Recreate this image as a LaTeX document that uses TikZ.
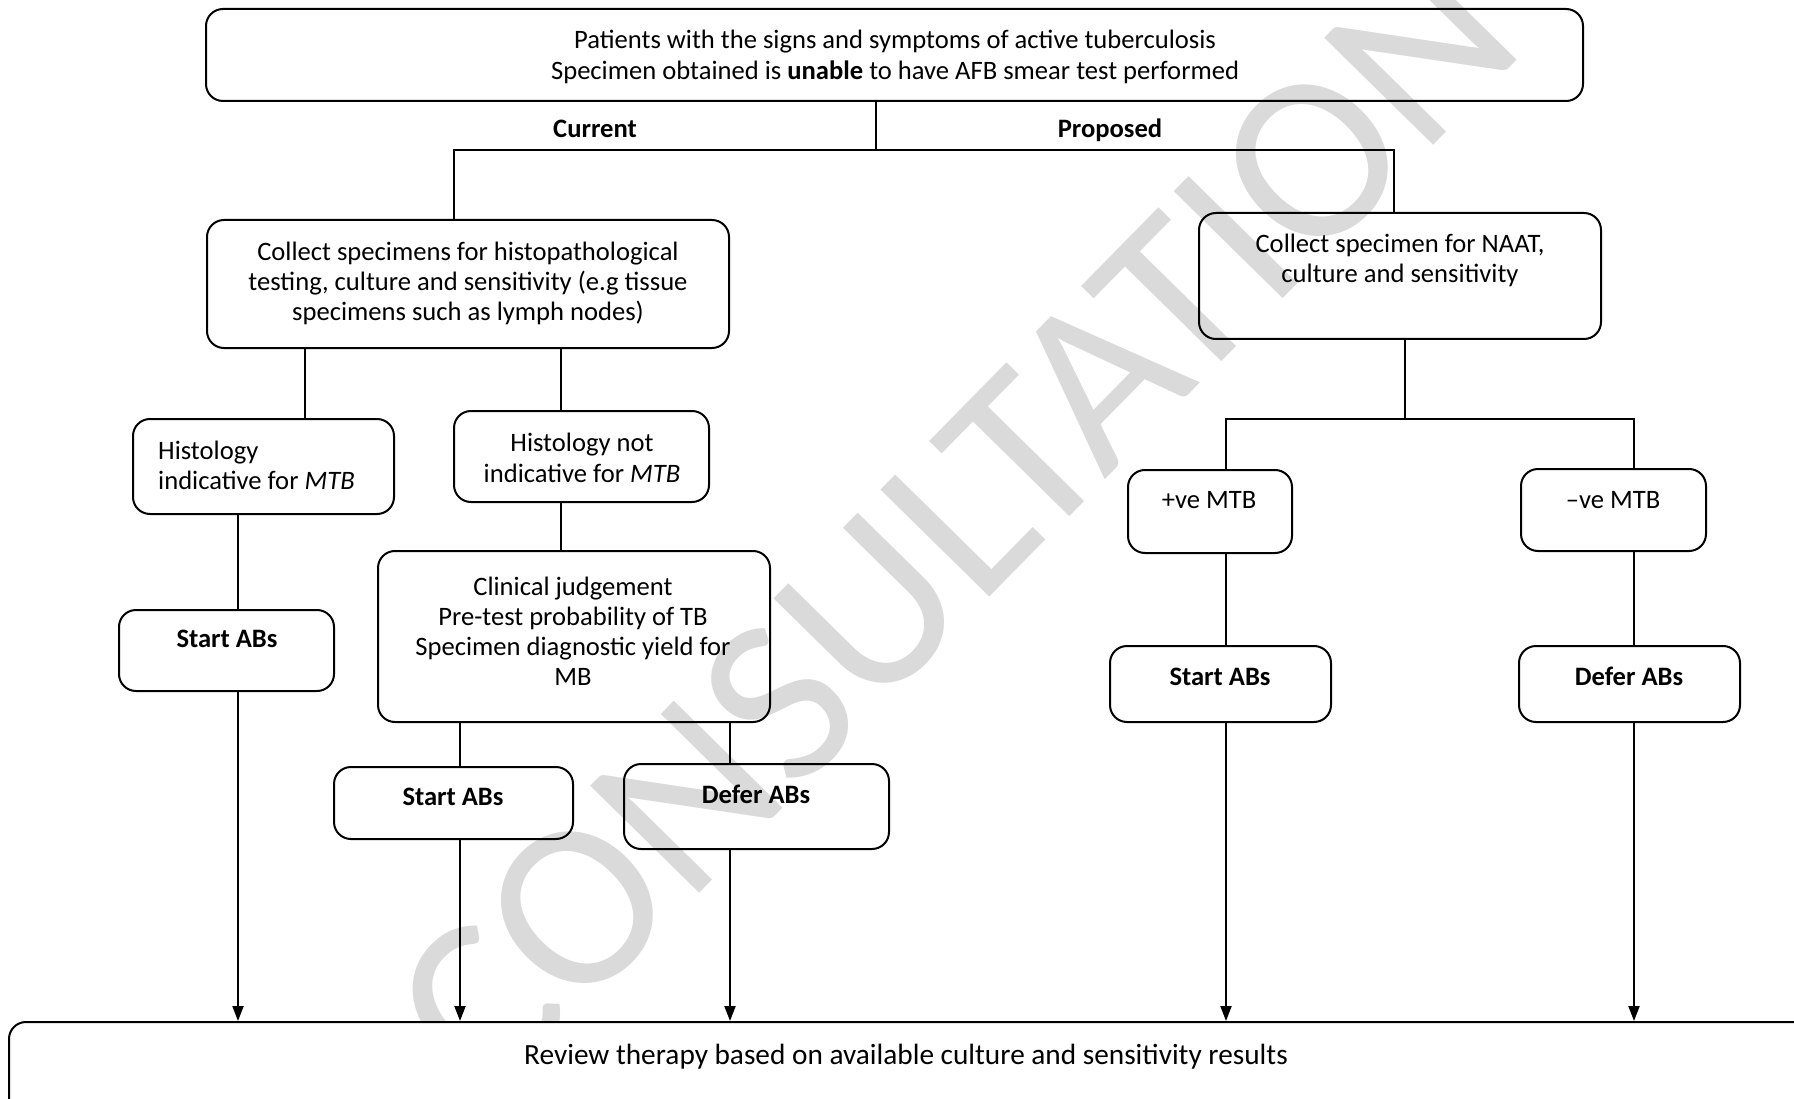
\documentclass[tikz,border=0pt]{standalone}
\usepackage{fontspec}
\setmainfont{Carlito}
\usetikzlibrary{arrows.meta,fit}
\definecolor{wmgray}{RGB}{218,218,218}
\begin{document}
\begin{tikzpicture}[x=1pt,y=-1pt,
  box/.style={draw, line width=2pt, rounded corners=17pt, inner sep=0pt},
  txt/.style={font=\fontsize{26.6}{31}\selectfont, inner sep=0pt, anchor=base},
  btxt/.style={txt, font=\fontsize{26.6}{31}\selectfont\bfseries},
  ln/.style={line width=2pt},
  arr/.style={line width=2pt, -{Triangle[length=15pt,width=11pt]}}]
\useasboundingbox (0,0) rectangle (1794,1099);
\clip (0,0) rectangle (1794,1099);
\fill[white] (0,0) rectangle (1794,1099);

% watermark
\node[text=wmgray, font=\fontsize{238}{238}\selectfont, rotate=45.5, inner sep=0pt] (wmk) at (955,524) {CONSULTATION};

% boxes
\node[box, fit={(206,9) (1583,101)}] (top) {};
\node[box, fit={(207,220) (729,348)}] (coll) {};
\node[box, fit={(1199,213) (1601,339)}] (naat) {};
\node[box, fit={(133,419) (394,514)}] (hist) {};
\node[box, fit={(454,411) (709,502)}] (hnot) {};
\node[box, fit={(378,551) (770,722)}] (clin) {};
\node[box, fit={(119,610) (334,691)}] (sa1) {};
\node[box, fit={(334,767) (573,839)}] (sa2) {};
\node[box, fit={(624,764) (889,849)}] (da1) {};
\node[box, fit={(1128,470) (1292,553)}] (pos) {};
\node[box, fit={(1521,469) (1706,551)}] (neg) {};
\node[box, fit={(1110,646) (1331,722)}] (sa3) {};
\node[box, fit={(1519,646) (1740,722)}] (da2) {};
\node[box, fill=white, fit={(9,1022) (1840,1140)}] (rev) {};

% texts
\node[txt] (t1a) at (895,49) {Patients with the signs and symptoms of active tuberculosis};
\node[txt] (t1b) at (895,80) {Specimen obtained is \textbf{unable} to have AFB smear test performed};
\node[btxt] (cur) at (595,138) {Current};
\node[btxt] (prop) at (1110,138) {Proposed};
\node[txt] (c1) at (468,261) {Collect specimens for histopathological};
\node[txt] (c2) at (468,291) {testing, culture and sensitivity (e.g tissue};
\node[txt] (c3) at (468,321) {specimens such as lymph nodes)};
\node[txt] (n1) at (1400,253) {Collect specimen for NAAT,};
\node[txt] (n2) at (1400,283) {culture and sensitivity};
\node[txt, anchor=base west] (h1) at (158,459) {Histology};
\node[txt, anchor=base west] (h2) at (158,489) {indicative for \textit{MTB}};
\node[txt] (hn1) at (582,451) {Histology not};
\node[txt] (hn2) at (582,482) {indicative for \textit{MTB}};
\node[txt] (cl1) at (573,595) {Clinical judgement};
\node[txt] (cl2) at (573,625) {Pre-test probability of TB};
\node[txt] (cl3) at (573,655) {Specimen diagnostic yield for};
\node[txt] (cl4) at (573,685) {MB};
\node[btxt] (s1) at (227,647) {Start ABs};
\node[btxt] (s2) at (453,805) {Start ABs};
\node[btxt] (d1) at (756,803) {Defer ABs};
\node[txt] (p1) at (1209,508) {+ve MTB};
\node[txt] (m1) at (1613,508) {–ve MTB};
\node[btxt] (s3) at (1220,685) {Start ABs};
\node[btxt] (d2) at (1629,685) {Defer ABs};
\node[txt, font=\fontsize{29.3}{34}\selectfont] (rv) at (906,1064) {Review therapy based on available culture and sensitivity results};

% junction coordinates
\coordinate (j0) at (876,150);
\coordinate (jL) at (454,150);
\coordinate (jR) at (1394,150);
\coordinate (xa) at (305,0);
\coordinate (xb) at (561,0);
\coordinate (xc) at (238,0);
\coordinate (xd) at (460,0);
\coordinate (xe) at (730,0);
\coordinate (jN) at (1405,419);
\coordinate (jP) at (1226,419);
\coordinate (jM) at (1634,419);

% connectors
\draw[ln] (top.south -| j0) -- (j0);
\draw[ln] (coll.north -| jL) -- (jL) -- (jR) -- (naat.north -| jR);
\draw[ln] (coll.south -| xa) -- (hist.north -| xa);
\draw[ln] (coll.south -| xb) -- (hnot.north -| xb);
\draw[ln] (hnot.south -| xb) -- (clin.north -| xb);
\draw[ln] (hist.south -| xc) -- (sa1.north -| xc);
\draw[arr] (sa1.south -| xc) -- (rev.north -| xc);
\draw[ln] (clin.south -| xd) -- (sa2.north -| xd);
\draw[ln] (clin.south -| xe) -- (da1.north -| xe);
\draw[arr] (sa2.south -| xd) -- (rev.north -| xd);
\draw[arr] (da1.south -| xe) -- (rev.north -| xe);
\draw[ln] (naat.south -| jN) -- (jN);
\draw[ln] (pos.north -| jP) -- (jP) -- (jM) -- (neg.north -| jM);
\draw[ln] (pos.south -| jP) -- (sa3.north -| jP);
\draw[ln] (neg.south -| jM) -- (da2.north -| jM);
\draw[arr] (sa3.south -| jP) -- (rev.north -| jP);
\draw[arr] (da2.south -| jM) -- (rev.north -| jM);
\end{tikzpicture}
\end{document}
